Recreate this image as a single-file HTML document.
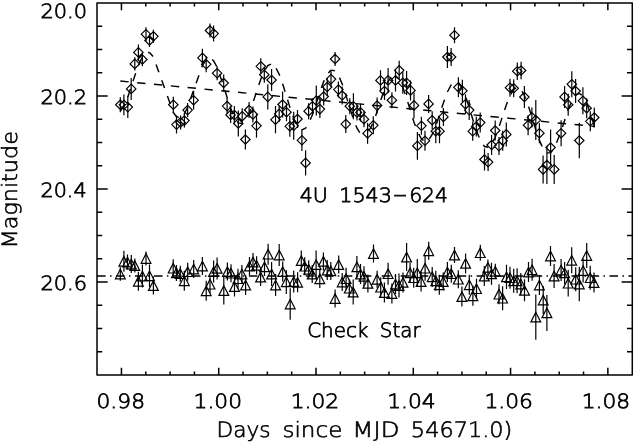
<!DOCTYPE html>
<html lang="en"><head><meta charset="utf-8"><title>4U 1543-624 light curve</title>
<style>html,body{margin:0;padding:0;background:#fff}svg{display:block}text{font-family:"DejaVu Sans Light","DejaVu Sans","Liberation Sans",sans-serif;font-weight:200;fill:#000;stroke:#000;stroke-width:0.75px;text-rendering:geometricPrecision}text.t{stroke-width:0.6px}.ax{stroke:#000;stroke-width:1.5;fill:none;stroke-linecap:butt;stroke-linejoin:round}.m{stroke:#000;stroke-width:1.2;fill:none;stroke-linejoin:miter}.e{stroke:#000;stroke-width:1.2;fill:none}.d{stroke:#000;stroke-width:1.45;fill:none}</style></head><body>
<svg width="633" height="444" viewBox="0 0 633 444">
<rect width="633" height="444" fill="#fff"/>
<rect class="ax" x="97.0" y="2.95" width="535.3" height="372.05"/>
<path class="ax" d="M121.45 2.95v7.2M121.45 375.0v-7.2M145.77 2.95v3.6M145.77 375.0v-3.6M170.09 2.95v3.6M170.09 375.0v-3.6M194.41 2.95v3.6M194.41 375.0v-3.6M218.73 2.95v7.2M218.73 375.0v-7.2M243.05 2.95v3.6M243.05 375.0v-3.6M267.37 2.95v3.6M267.37 375.0v-3.6M291.69 2.95v3.6M291.69 375.0v-3.6M316.01 2.95v7.2M316.01 375.0v-7.2M340.33 2.95v3.6M340.33 375.0v-3.6M364.65 2.95v3.6M364.65 375.0v-3.6M388.97 2.95v3.6M388.97 375.0v-3.6M413.29 2.95v7.2M413.29 375.0v-7.2M437.61 2.95v3.6M437.61 375.0v-3.6M461.93 2.95v3.6M461.93 375.0v-3.6M486.25 2.95v3.6M486.25 375.0v-3.6M510.57 2.95v7.2M510.57 375.0v-7.2M534.89 2.95v3.6M534.89 375.0v-3.6M559.21 2.95v3.6M559.21 375.0v-3.6M583.53 2.95v3.6M583.53 375.0v-3.6M607.85 2.95v7.2M607.85 375.0v-7.2M97.0 26.20h5.3M632.3 26.20h-5.3M97.0 49.46h5.3M632.3 49.46h-5.3M97.0 72.71h5.3M632.3 72.71h-5.3M97.0 95.96h10.7M632.3 95.96h-10.7M97.0 119.22h5.3M632.3 119.22h-5.3M97.0 142.47h5.3M632.3 142.47h-5.3M97.0 165.72h5.3M632.3 165.72h-5.3M97.0 188.97h10.7M632.3 188.97h-10.7M97.0 212.23h5.3M632.3 212.23h-5.3M97.0 235.48h5.3M632.3 235.48h-5.3M97.0 258.73h5.3M632.3 258.73h-5.3M97.0 281.99h10.7M632.3 281.99h-10.7M97.0 305.24h5.3M632.3 305.24h-5.3M97.0 328.49h5.3M632.3 328.49h-5.3M97.0 351.75h5.3M632.3 351.75h-5.3"/>
<path class="d" stroke-dasharray="8.4 8.5" d="M120.3 81.07L594.3 126.41"/>
<polyline class="d" stroke-dasharray="8.4 8.4" stroke-dashoffset="0.90" points="120.3,111.0 123.9,106.0 127.8,96.9 131.2,86.9 134.8,75.7 138.4,65.5 142.4,56.8 146.0,52.6 149.5,52.5"/>
<polyline class="d" stroke-dasharray="8.4 8.4" stroke-dashoffset="3.00" points="149.5,52.5 153.4,57.0 173.3,112.4 176.5,116.8 180.6,117.7"/>
<polyline class="d" stroke-dasharray="8.4 8.4" stroke-dashoffset="12.15" points="180.6,117.7 184.4,113.7 187.6,107.3 193.6,90.2 202.4,65.6 206.2,59.6 210.0,58.0"/>
<polyline class="d" stroke-dasharray="8.4 8.4" stroke-dashoffset="14.16" points="210.0,58.0 213.6,60.8 217.1,67.2 223.7,86.3 227.1,97.5 230.6,108.2 234.4,117.4 238.3,122.9 242.2,123.6"/>
<polyline class="d" stroke-dasharray="8.4 8.4" stroke-dashoffset="8.01" points="242.2,123.6 245.4,120.5 249.1,113.3 252.9,103.0 256.5,91.9 260.8,79.2 264.3,70.8 267.8,65.5 271.6,63.9"/>
<polyline class="d" stroke-dasharray="8.4 8.4" stroke-dashoffset="10.42" points="271.6,63.9 275.5,67.1 279.2,74.4 282.6,83.8 286.5,96.3 289.8,107.1 293.7,118.2 297.5,126.0 301.9,129.8"/>
<polyline class="d" stroke-dasharray="8.4 8.4" stroke-dashoffset="3.16" points="301.9,129.8 305.6,128.1 308.6,123.7 312.5,114.5 316.3,103.3 319.9,92.2 323.7,81.6 327.2,74.3 331.0,70.1"/>
<polyline class="d" stroke-dasharray="8.4 8.4" stroke-dashoffset="4.50" points="331.0,70.1 335.1,70.8 338.4,75.2 342.2,84.0 345.8,94.8 349.8,107.9 353.4,119.1 357.0,128.2 360.5,133.8 364.0,135.7"/>
<polyline class="d" stroke-dasharray="8.4 8.4" stroke-dashoffset="10.06" points="364.0,135.7 367.6,133.5 373.3,122.4 377.1,111.6 380.5,101.0 384.5,89.4 388.1,81.3 391.9,76.4 395.5,75.9"/>
<polyline class="d" stroke-dasharray="8.4 8.4" stroke-dashoffset="4.31" points="395.5,75.9 399.2,79.8 402.8,87.3 406.6,98.2 410.5,111.0 414.0,122.2 417.4,131.4 421.4,138.9 425.0,141.6"/>
<polyline class="d" stroke-dasharray="8.4 8.4" stroke-dashoffset="11.51" points="425.0,141.6 428.6,140.0 432.2,134.5 435.8,125.8 439.5,114.9 443.4,102.9 447.4,92.0 451.1,84.9 454.5,81.7"/>
<polyline class="d" stroke-dasharray="8.4 8.4" stroke-dashoffset="12.65" points="454.5,81.7 458.4,82.7 462.4,88.7 465.5,96.2 469.2,107.4 472.7,119.0 476.3,130.2 480.2,140.1 484.5,146.5 488.1,147.3"/>
<polyline class="d" stroke-dasharray="8.4 8.4" stroke-dashoffset="8.97" points="488.1,147.3 491.6,144.2 495.2,137.3 499.0,127.1 502.7,115.7 506.3,104.9 510.0,95.5 513.7,89.4 517.3,87.4"/>
<polyline class="d" stroke-dasharray="8.4 8.4" stroke-dashoffset="10.63" points="517.3,87.4 521.1,89.8 524.4,95.5 528.1,105.1 531.9,117.0 535.8,129.8 539.4,140.4 543.1,148.5 546.9,152.9"/>
<polyline class="d" stroke-dasharray="8.4 8.4" stroke-dashoffset="1.38" points="546.9,152.9 550.6,152.7 554.2,148.4 561.1,131.4 564.6,120.5 568.2,109.8 571.8,100.9 575.6,95.0 579.3,93.3"/>
<polyline class="d" stroke-dasharray="8.4 8.4" stroke-dashoffset="5.31" points="579.3,93.3 582.9,96.0 586.7,103.1 590.3,112.9 594.3,125.7"/>
<path class="d" stroke-dasharray="8.6 4.4 1.5 4.48" d="M97 276.0H632.3"/>
<path class="e" d="M120.3 97.2v15.0M123.9 94.4v20.8M127.8 96.1v22.0M131.2 77.9v22.0M134.8 57.2v13.4M138.4 44.4v16.0M142.4 52.8v13.4M146.0 27.2v14.0M149.5 34.0v13.0M153.4 29.8v13.0M173.3 96.7v16.0M176.5 115.6v18.0M180.6 115.4v14.0M184.4 113.6v14.0M187.6 103.1v14.0M193.6 90.8v18.8M202.4 48.8v18.0M206.2 56.3v16.0M210.0 23.5v14.0M213.6 25.6v16.0M217.1 66.2v14.0M223.7 74.5v17.0M227.1 98.1v16.0M230.6 106.9v16.0M234.4 106.1v18.0M238.3 110.4v26.0M242.2 108.2v16.0M245.4 129.5v20.0M249.1 102.0v16.0M252.9 106.5v16.0M256.5 113.8v24.0M260.8 58.3v16.0M264.3 66.7v16.0M267.8 84.3v25.2M271.6 69.0v22.0M275.5 106.1v27.2M279.2 105.8v16.0M282.6 91.5v26.0M286.5 103.2v18.0M289.8 115.8v21.0M293.7 111.8v28.0M297.5 110.0v18.0M301.9 129.6v21.4M305.6 150.3v25.2M308.6 103.2v16.0M312.5 98.2v16.0M316.3 85.6v30.0M319.9 100.1v18.0M323.7 87.5v18.0M327.2 78.0v18.0M331.0 71.1v16.0M335.1 52.0v14.0M338.4 81.6v16.0M342.2 86.5v18.0M345.8 115.1v18.0M349.8 98.2v16.0M353.4 93.2v26.0M357.0 104.4v16.0M360.5 103.4v18.0M364.0 111.2v16.0M367.6 123.1v20.6M373.3 116.3v18.0M377.1 97.6v16.0M380.5 70.2v20.4M384.5 82.0v18.0M388.1 67.9v25.0M391.9 92.2v16.0M395.5 69.4v22.0M399.2 60.8v19.0M402.8 71.8v22.0M406.6 70.9v24.0M410.5 80.4v20.0M414.0 92.4v26.0M417.4 132.1v27.6M421.4 116.8v18.0M425.0 130.8v20.0M428.6 94.9v18.0M432.2 111.2v18.0M435.8 119.2v24.0M439.5 119.2v24.0M443.4 107.9v18.0M447.4 46.0v22.0M451.1 48.0v18.0M454.5 27.2v16.0M458.4 77.3v20.0M462.4 79.8v22.0M465.5 94.2v20.0M469.2 100.1v20.0M472.7 121.8v19.0M476.3 116.5v20.0M480.2 112.6v20.0M484.5 148.5v22.0M488.1 153.1v18.0M491.6 135.0v20.0M495.2 120.5v20.0M499.0 137.1v18.0M502.7 130.7v20.0M506.3 122.4v24.0M510.0 78.7v18.0M513.7 79.3v18.0M517.3 62.5v17.4M521.1 61.8v17.4M524.4 86.0v22.0M528.1 115.2v20.0M531.9 107.4v20.0M535.8 100.1v40.0M539.4 123.2v20.0M543.1 155.4v28.0M546.9 146.0v38.0M550.6 129.5v36.0M554.2 154.9v29.0M561.1 120.2v26.0M564.6 85.9v22.0M568.2 93.8v22.0M571.8 71.2v26.0M575.6 79.0v24.0M579.3 122.7v35.6M582.9 87.3v27.0M586.7 98.2v20.0M590.3 111.3v20.0M594.3 107.5v20.0M120.3 267.3v13.4M123.9 250.8v21.0M127.5 254.5v15.0M131.3 255.0v18.0M134.8 258.6v14.0M138.4 271.8v19.0M142.4 264.6v23.0M146.0 251.5v14.0M149.5 264.5v22.6M153.4 276.6v18.0M173.2 259.2v18.0M176.4 264.9v16.0M180.3 265.7v16.0M184.3 270.8v20.0M187.7 262.7v18.0M193.7 260.0v18.0M202.4 257.0v18.0M206.2 280.8v20.0M210.0 275.2v18.0M213.6 260.6v22.0M217.1 257.4v22.0M223.8 276.6v28.0M227.4 262.6v18.0M231.0 264.2v18.0M234.5 276.6v20.0M238.0 268.7v20.0M241.9 265.0v18.0M245.6 275.0v20.0M249.5 257.1v18.0M253.0 253.1v18.0M256.6 256.3v18.0M260.6 268.1v18.0M264.5 257.9v18.0M268.1 243.7v21.0M271.6 262.0v24.0M275.6 274.0v22.0M279.2 244.0v22.0M282.7 261.6v20.0M286.3 269.9v24.0M290.2 288.3v31.4M293.7 270.5v22.0M297.6 272.3v20.0M301.3 250.6v20.0M304.7 257.2v18.0M308.7 260.3v18.0M312.2 265.1v18.0M316.1 250.6v28.0M319.8 269.6v18.4M323.4 252.4v18.0M327.2 260.1v20.0M330.8 261.9v18.0M335.1 289.5v18.0M338.7 255.6v18.0M342.2 273.0v18.0M346.1 267.7v22.0M349.3 279.2v18.0M353.2 279.6v25.0M356.9 255.9v22.0M360.5 264.0v20.0M364.0 266.3v20.0M367.9 274.4v18.0M373.5 244.5v18.0M377.1 270.8v17.0M380.7 277.2v20.0M384.4 282.5v20.0M388.1 262.7v22.0M391.9 283.5v20.0M395.5 274.0v20.0M399.0 273.6v24.0M403.0 272.4v20.0M406.6 243.1v28.0M410.1 262.9v20.0M413.7 267.7v20.0M417.3 258.9v28.0M421.1 271.6v20.0M425.1 255.7v25.0M428.7 241.8v18.0M432.2 266.9v20.0M435.8 270.8v20.0M439.3 274.8v20.0M443.2 272.6v18.0M447.4 262.1v20.0M451.3 264.7v18.0M454.5 247.1v16.0M458.3 270.2v18.0M461.9 286.6v20.0M465.6 253.4v20.0M469.3 274.8v20.0M472.9 285.8v20.0M476.5 278.7v20.0M480.3 244.7v16.0M484.3 266.1v20.0M487.9 259.4v16.0M491.5 262.8v22.0M495.3 263.7v15.2M499.0 284.2v20.0M502.6 286.2v24.0M506.5 264.7v24.4M510.0 266.7v22.0M513.7 268.8v24.0M517.1 268.3v25.0M520.8 273.0v22.0M524.5 279.3v22.0M528.5 262.1v20.0M532.1 258.8v22.0M535.8 294.4v45.4M539.4 275.0v20.0M543.2 286.1v28.0M546.9 294.9v36.0M550.5 246.0v20.0M554.1 264.1v24.0M561.1 259.0v22.0M564.6 261.9v22.0M568.2 269.8v26.8M571.7 247.3v26.0M575.7 267.2v24.0M579.3 266.7v34.6M583.1 258.5v24.0M586.7 243.0v25.0M590.2 265.7v24.0M594.0 272.6v20.0"/>
<path class="m" d="M115.6 104.7l4.7 -4.7l4.7 4.7l-4.7 4.7zM119.2 104.8l4.7 -4.7l4.7 4.7l-4.7 4.7zM123.1 107.1l4.7 -4.7l4.7 4.7l-4.7 4.7zM126.5 88.9l4.7 -4.7l4.7 4.7l-4.7 4.7zM130.1 63.9l4.7 -4.7l4.7 4.7l-4.7 4.7zM133.7 52.4l4.7 -4.7l4.7 4.7l-4.7 4.7zM137.7 59.5l4.7 -4.7l4.7 4.7l-4.7 4.7zM141.3 34.2l4.7 -4.7l4.7 4.7l-4.7 4.7zM144.8 40.5l4.7 -4.7l4.7 4.7l-4.7 4.7zM148.7 36.3l4.7 -4.7l4.7 4.7l-4.7 4.7zM168.6 104.7l4.7 -4.7l4.7 4.7l-4.7 4.7zM171.8 124.6l4.7 -4.7l4.7 4.7l-4.7 4.7zM175.9 122.4l4.7 -4.7l4.7 4.7l-4.7 4.7zM179.7 120.6l4.7 -4.7l4.7 4.7l-4.7 4.7zM182.9 110.1l4.7 -4.7l4.7 4.7l-4.7 4.7zM188.9 100.2l4.7 -4.7l4.7 4.7l-4.7 4.7zM197.7 57.8l4.7 -4.7l4.7 4.7l-4.7 4.7zM201.5 64.3l4.7 -4.7l4.7 4.7l-4.7 4.7zM205.3 30.5l4.7 -4.7l4.7 4.7l-4.7 4.7zM208.9 33.6l4.7 -4.7l4.7 4.7l-4.7 4.7zM212.4 73.2l4.7 -4.7l4.7 4.7l-4.7 4.7zM219.0 83.0l4.7 -4.7l4.7 4.7l-4.7 4.7zM222.4 106.1l4.7 -4.7l4.7 4.7l-4.7 4.7zM225.9 114.9l4.7 -4.7l4.7 4.7l-4.7 4.7zM229.7 115.1l4.7 -4.7l4.7 4.7l-4.7 4.7zM233.6 123.4l4.7 -4.7l4.7 4.7l-4.7 4.7zM237.5 116.2l4.7 -4.7l4.7 4.7l-4.7 4.7zM240.7 139.5l4.7 -4.7l4.7 4.7l-4.7 4.7zM244.4 110.0l4.7 -4.7l4.7 4.7l-4.7 4.7zM248.2 114.5l4.7 -4.7l4.7 4.7l-4.7 4.7zM251.8 125.8l4.7 -4.7l4.7 4.7l-4.7 4.7zM256.1 66.3l4.7 -4.7l4.7 4.7l-4.7 4.7zM259.6 74.7l4.7 -4.7l4.7 4.7l-4.7 4.7zM263.1 96.9l4.7 -4.7l4.7 4.7l-4.7 4.7zM266.9 80.0l4.7 -4.7l4.7 4.7l-4.7 4.7zM270.8 119.7l4.7 -4.7l4.7 4.7l-4.7 4.7zM274.5 113.8l4.7 -4.7l4.7 4.7l-4.7 4.7zM277.9 104.5l4.7 -4.7l4.7 4.7l-4.7 4.7zM281.8 112.2l4.7 -4.7l4.7 4.7l-4.7 4.7zM285.1 126.3l4.7 -4.7l4.7 4.7l-4.7 4.7zM289.0 125.8l4.7 -4.7l4.7 4.7l-4.7 4.7zM292.8 119.0l4.7 -4.7l4.7 4.7l-4.7 4.7zM297.2 140.3l4.7 -4.7l4.7 4.7l-4.7 4.7zM300.9 162.9l4.7 -4.7l4.7 4.7l-4.7 4.7zM303.9 111.2l4.7 -4.7l4.7 4.7l-4.7 4.7zM307.8 106.2l4.7 -4.7l4.7 4.7l-4.7 4.7zM311.6 100.6l4.7 -4.7l4.7 4.7l-4.7 4.7zM315.2 109.1l4.7 -4.7l4.7 4.7l-4.7 4.7zM319.0 96.5l4.7 -4.7l4.7 4.7l-4.7 4.7zM322.5 87.0l4.7 -4.7l4.7 4.7l-4.7 4.7zM326.3 79.1l4.7 -4.7l4.7 4.7l-4.7 4.7zM330.4 59.0l4.7 -4.7l4.7 4.7l-4.7 4.7zM333.7 89.6l4.7 -4.7l4.7 4.7l-4.7 4.7zM337.5 95.5l4.7 -4.7l4.7 4.7l-4.7 4.7zM341.1 124.1l4.7 -4.7l4.7 4.7l-4.7 4.7zM345.1 106.2l4.7 -4.7l4.7 4.7l-4.7 4.7zM348.7 106.2l4.7 -4.7l4.7 4.7l-4.7 4.7zM352.3 112.4l4.7 -4.7l4.7 4.7l-4.7 4.7zM355.8 112.4l4.7 -4.7l4.7 4.7l-4.7 4.7zM359.3 119.2l4.7 -4.7l4.7 4.7l-4.7 4.7zM362.9 133.4l4.7 -4.7l4.7 4.7l-4.7 4.7zM368.6 125.3l4.7 -4.7l4.7 4.7l-4.7 4.7zM372.4 105.6l4.7 -4.7l4.7 4.7l-4.7 4.7zM375.8 80.4l4.7 -4.7l4.7 4.7l-4.7 4.7zM379.8 91.0l4.7 -4.7l4.7 4.7l-4.7 4.7zM383.4 80.4l4.7 -4.7l4.7 4.7l-4.7 4.7zM387.2 100.2l4.7 -4.7l4.7 4.7l-4.7 4.7zM390.8 80.4l4.7 -4.7l4.7 4.7l-4.7 4.7zM394.5 70.3l4.7 -4.7l4.7 4.7l-4.7 4.7zM398.1 82.8l4.7 -4.7l4.7 4.7l-4.7 4.7zM401.9 82.9l4.7 -4.7l4.7 4.7l-4.7 4.7zM405.8 90.4l4.7 -4.7l4.7 4.7l-4.7 4.7zM409.3 105.4l4.7 -4.7l4.7 4.7l-4.7 4.7zM412.7 145.9l4.7 -4.7l4.7 4.7l-4.7 4.7zM416.7 125.8l4.7 -4.7l4.7 4.7l-4.7 4.7zM420.3 140.8l4.7 -4.7l4.7 4.7l-4.7 4.7zM423.9 103.9l4.7 -4.7l4.7 4.7l-4.7 4.7zM427.5 120.2l4.7 -4.7l4.7 4.7l-4.7 4.7zM431.1 131.2l4.7 -4.7l4.7 4.7l-4.7 4.7zM434.8 131.2l4.7 -4.7l4.7 4.7l-4.7 4.7zM438.7 116.9l4.7 -4.7l4.7 4.7l-4.7 4.7zM442.7 57.0l4.7 -4.7l4.7 4.7l-4.7 4.7zM446.4 57.0l4.7 -4.7l4.7 4.7l-4.7 4.7zM449.8 35.2l4.7 -4.7l4.7 4.7l-4.7 4.7zM453.7 87.3l4.7 -4.7l4.7 4.7l-4.7 4.7zM457.7 90.8l4.7 -4.7l4.7 4.7l-4.7 4.7zM460.8 104.2l4.7 -4.7l4.7 4.7l-4.7 4.7zM464.5 110.1l4.7 -4.7l4.7 4.7l-4.7 4.7zM468.0 131.3l4.7 -4.7l4.7 4.7l-4.7 4.7zM471.6 126.5l4.7 -4.7l4.7 4.7l-4.7 4.7zM475.5 122.6l4.7 -4.7l4.7 4.7l-4.7 4.7zM479.8 159.5l4.7 -4.7l4.7 4.7l-4.7 4.7zM483.4 162.1l4.7 -4.7l4.7 4.7l-4.7 4.7zM486.9 145.0l4.7 -4.7l4.7 4.7l-4.7 4.7zM490.5 130.5l4.7 -4.7l4.7 4.7l-4.7 4.7zM494.3 146.1l4.7 -4.7l4.7 4.7l-4.7 4.7zM498.0 140.7l4.7 -4.7l4.7 4.7l-4.7 4.7zM501.6 134.4l4.7 -4.7l4.7 4.7l-4.7 4.7zM505.3 87.7l4.7 -4.7l4.7 4.7l-4.7 4.7zM509.0 88.3l4.7 -4.7l4.7 4.7l-4.7 4.7zM512.6 71.2l4.7 -4.7l4.7 4.7l-4.7 4.7zM516.4 70.5l4.7 -4.7l4.7 4.7l-4.7 4.7zM519.7 97.0l4.7 -4.7l4.7 4.7l-4.7 4.7zM523.4 125.2l4.7 -4.7l4.7 4.7l-4.7 4.7zM527.2 117.4l4.7 -4.7l4.7 4.7l-4.7 4.7zM531.1 120.1l4.7 -4.7l4.7 4.7l-4.7 4.7zM534.7 133.2l4.7 -4.7l4.7 4.7l-4.7 4.7zM538.4 169.4l4.7 -4.7l4.7 4.7l-4.7 4.7zM542.2 165.0l4.7 -4.7l4.7 4.7l-4.7 4.7zM545.9 147.5l4.7 -4.7l4.7 4.7l-4.7 4.7zM549.5 169.4l4.7 -4.7l4.7 4.7l-4.7 4.7zM556.4 133.2l4.7 -4.7l4.7 4.7l-4.7 4.7zM559.9 96.9l4.7 -4.7l4.7 4.7l-4.7 4.7zM563.5 104.8l4.7 -4.7l4.7 4.7l-4.7 4.7zM567.1 84.2l4.7 -4.7l4.7 4.7l-4.7 4.7zM570.9 91.0l4.7 -4.7l4.7 4.7l-4.7 4.7zM574.6 140.5l4.7 -4.7l4.7 4.7l-4.7 4.7zM578.2 100.8l4.7 -4.7l4.7 4.7l-4.7 4.7zM582.0 108.2l4.7 -4.7l4.7 4.7l-4.7 4.7zM585.6 121.3l4.7 -4.7l4.7 4.7l-4.7 4.7zM589.6 117.5l4.7 -4.7l4.7 4.7l-4.7 4.7zM120.3 269.2l4.9 9.6h-9.8zM123.9 256.5l4.9 9.6h-9.8zM127.5 257.2l4.9 9.6h-9.8zM131.3 259.2l4.9 9.6h-9.8zM134.8 260.8l4.9 9.6h-9.8zM138.4 276.5l4.9 9.6h-9.8zM142.4 271.3l4.9 9.6h-9.8zM146.0 253.7l4.9 9.6h-9.8zM149.5 271.0l4.9 9.6h-9.8zM153.4 280.8l4.9 9.6h-9.8zM173.2 263.4l4.9 9.6h-9.8zM176.4 268.1l4.9 9.6h-9.8zM180.3 268.9l4.9 9.6h-9.8zM184.3 276.0l4.9 9.6h-9.8zM187.7 266.9l4.9 9.6h-9.8zM193.7 264.2l4.9 9.6h-9.8zM202.4 261.2l4.9 9.6h-9.8zM206.2 286.0l4.9 9.6h-9.8zM210.0 279.4l4.9 9.6h-9.8zM213.6 266.8l4.9 9.6h-9.8zM217.1 263.6l4.9 9.6h-9.8zM223.8 285.8l4.9 9.6h-9.8zM227.4 266.8l4.9 9.6h-9.8zM231.0 268.4l4.9 9.6h-9.8zM234.5 281.8l4.9 9.6h-9.8zM238.0 273.9l4.9 9.6h-9.8zM241.9 269.2l4.9 9.6h-9.8zM245.6 280.2l4.9 9.6h-9.8zM249.5 261.3l4.9 9.6h-9.8zM253.0 257.3l4.9 9.6h-9.8zM256.6 260.5l4.9 9.6h-9.8zM260.6 272.3l4.9 9.6h-9.8zM264.5 262.1l4.9 9.6h-9.8zM268.1 249.4l4.9 9.6h-9.8zM271.6 269.2l4.9 9.6h-9.8zM275.6 280.2l4.9 9.6h-9.8zM279.2 250.2l4.9 9.6h-9.8zM282.7 266.8l4.9 9.6h-9.8zM286.3 277.1l4.9 9.6h-9.8zM290.2 299.2l4.9 9.6h-9.8zM293.7 276.7l4.9 9.6h-9.8zM297.6 277.5l4.9 9.6h-9.8zM301.3 255.8l4.9 9.6h-9.8zM304.7 261.4l4.9 9.6h-9.8zM308.7 264.5l4.9 9.6h-9.8zM312.2 269.3l4.9 9.6h-9.8zM316.1 259.8l4.9 9.6h-9.8zM319.8 274.0l4.9 9.6h-9.8zM323.4 256.6l4.9 9.6h-9.8zM327.2 265.3l4.9 9.6h-9.8zM330.8 266.1l4.9 9.6h-9.8zM335.1 293.7l4.9 9.6h-9.8zM338.7 259.8l4.9 9.6h-9.8zM342.2 277.2l4.9 9.6h-9.8zM346.1 273.9l4.9 9.6h-9.8zM349.3 283.4l4.9 9.6h-9.8zM353.2 287.3l4.9 9.6h-9.8zM356.9 262.1l4.9 9.6h-9.8zM360.5 269.2l4.9 9.6h-9.8zM364.0 271.5l4.9 9.6h-9.8zM367.9 278.6l4.9 9.6h-9.8zM373.5 248.7l4.9 9.6h-9.8zM377.1 274.5l4.9 9.6h-9.8zM380.7 282.4l4.9 9.6h-9.8zM384.4 287.7l4.9 9.6h-9.8zM388.1 268.9l4.9 9.6h-9.8zM391.9 288.7l4.9 9.6h-9.8zM395.5 279.2l4.9 9.6h-9.8zM399.0 280.8l4.9 9.6h-9.8zM403.0 277.6l4.9 9.6h-9.8zM406.6 252.3l4.9 9.6h-9.8zM410.1 268.1l4.9 9.6h-9.8zM413.7 272.9l4.9 9.6h-9.8zM417.3 268.1l4.9 9.6h-9.8zM421.1 276.8l4.9 9.6h-9.8zM425.1 263.4l4.9 9.6h-9.8zM428.7 246.0l4.9 9.6h-9.8zM432.2 272.1l4.9 9.6h-9.8zM435.8 276.0l4.9 9.6h-9.8zM439.3 280.0l4.9 9.6h-9.8zM443.2 276.8l4.9 9.6h-9.8zM447.4 267.3l4.9 9.6h-9.8zM451.3 268.9l4.9 9.6h-9.8zM454.5 250.3l4.9 9.6h-9.8zM458.3 274.4l4.9 9.6h-9.8zM461.9 291.8l4.9 9.6h-9.8zM465.6 258.6l4.9 9.6h-9.8zM469.3 280.0l4.9 9.6h-9.8zM472.9 291.0l4.9 9.6h-9.8zM476.5 283.9l4.9 9.6h-9.8zM480.3 247.9l4.9 9.6h-9.8zM484.3 271.3l4.9 9.6h-9.8zM487.9 262.6l4.9 9.6h-9.8zM491.5 269.0l4.9 9.6h-9.8zM495.3 266.5l4.9 9.6h-9.8zM499.0 289.4l4.9 9.6h-9.8zM502.6 293.4l4.9 9.6h-9.8zM506.5 272.1l4.9 9.6h-9.8zM510.0 272.9l4.9 9.6h-9.8zM513.7 276.0l4.9 9.6h-9.8zM517.1 276.0l4.9 9.6h-9.8zM520.8 279.2l4.9 9.6h-9.8zM524.5 285.5l4.9 9.6h-9.8zM528.5 267.3l4.9 9.6h-9.8zM532.1 265.0l4.9 9.6h-9.8zM535.8 312.3l4.9 9.6h-9.8zM539.4 280.2l4.9 9.6h-9.8zM543.2 295.3l4.9 9.6h-9.8zM546.9 308.1l4.9 9.6h-9.8zM550.5 251.2l4.9 9.6h-9.8zM554.1 271.3l4.9 9.6h-9.8zM561.1 265.2l4.9 9.6h-9.8zM564.6 268.1l4.9 9.6h-9.8zM568.2 278.4l4.9 9.6h-9.8zM571.7 255.5l4.9 9.6h-9.8zM575.7 274.4l4.9 9.6h-9.8zM579.3 279.2l4.9 9.6h-9.8zM583.1 265.7l4.9 9.6h-9.8zM586.7 250.7l4.9 9.6h-9.8zM590.2 272.9l4.9 9.6h-9.8zM594.0 277.8l4.9 9.6h-9.8z"/>
<text y="17.87" font-size="19.61"><tspan x="40.43" textLength="46.72" lengthAdjust="spacingAndGlyphs">20.0</tspan></text>
<text y="104.34" font-size="19.61"><tspan x="40.4" textLength="46.7" lengthAdjust="spacingAndGlyphs">20.2</tspan></text>
<text y="197.27" font-size="19.61"><tspan x="40.47" textLength="46.17" lengthAdjust="spacingAndGlyphs">20.4</tspan></text>
<text y="290.4" font-size="19.61"><tspan x="40.44" textLength="46.59" lengthAdjust="spacingAndGlyphs">20.6</tspan></text>
<text y="407.65" font-size="19.61"><tspan x="96.51" textLength="48.5" lengthAdjust="spacingAndGlyphs">0.98</tspan></text>
<text y="407.65" font-size="19.61"><tspan x="193.54" textLength="48.53" lengthAdjust="spacingAndGlyphs">1.00</tspan></text>
<text y="407.65" font-size="19.61"><tspan x="290.72" textLength="48.53" lengthAdjust="spacingAndGlyphs">1.02</tspan></text>
<text y="407.65" font-size="19.61"><tspan x="387.2" textLength="48.53" lengthAdjust="spacingAndGlyphs">1.04</tspan></text>
<text y="407.65" font-size="19.61"><tspan x="484.43" textLength="48.53" lengthAdjust="spacingAndGlyphs">1.06</tspan></text>
<text y="407.65" font-size="19.61"><tspan x="581.68" textLength="48.53" lengthAdjust="spacingAndGlyphs">1.08</tspan></text>
<text class="t" y="437.1" font-size="21.08"><tspan x="216.51" textLength="54.13" lengthAdjust="spacingAndGlyphs">Days</tspan> <tspan x="282.41" textLength="59.94" lengthAdjust="spacingAndGlyphs">since</tspan> <tspan x="352.38" textLength="47.08" lengthAdjust="spacingAndGlyphs">MJD</tspan> <tspan x="410.88" textLength="101.46" lengthAdjust="spacingAndGlyphs">54671.0)</tspan></text>
<text y="202.1" font-size="19.61"><tspan x="299.76" textLength="28.19" lengthAdjust="spacingAndGlyphs">4U</tspan> <tspan x="339.22" textLength="52.8" lengthAdjust="spacingAndGlyphs">1543</tspan><tspan x="393.05" dy="-1.3" textLength="14.13" lengthAdjust="spacingAndGlyphs">-</tspan><tspan x="409.16" dy="1.3" textLength="38.89" lengthAdjust="spacingAndGlyphs">624</tspan></text>
<text y="336.8" font-size="19.61"><tspan x="307.21" textLength="61.19" lengthAdjust="spacingAndGlyphs">Check</tspan> <tspan x="379.89" textLength="40.68" lengthAdjust="spacingAndGlyphs">Star</tspan></text>
<text class="t" transform="translate(17.4,248.54) rotate(-90)" font-size="21.08" textLength="117.44" lengthAdjust="spacingAndGlyphs">Magnitude</text>
</svg></body></html>
